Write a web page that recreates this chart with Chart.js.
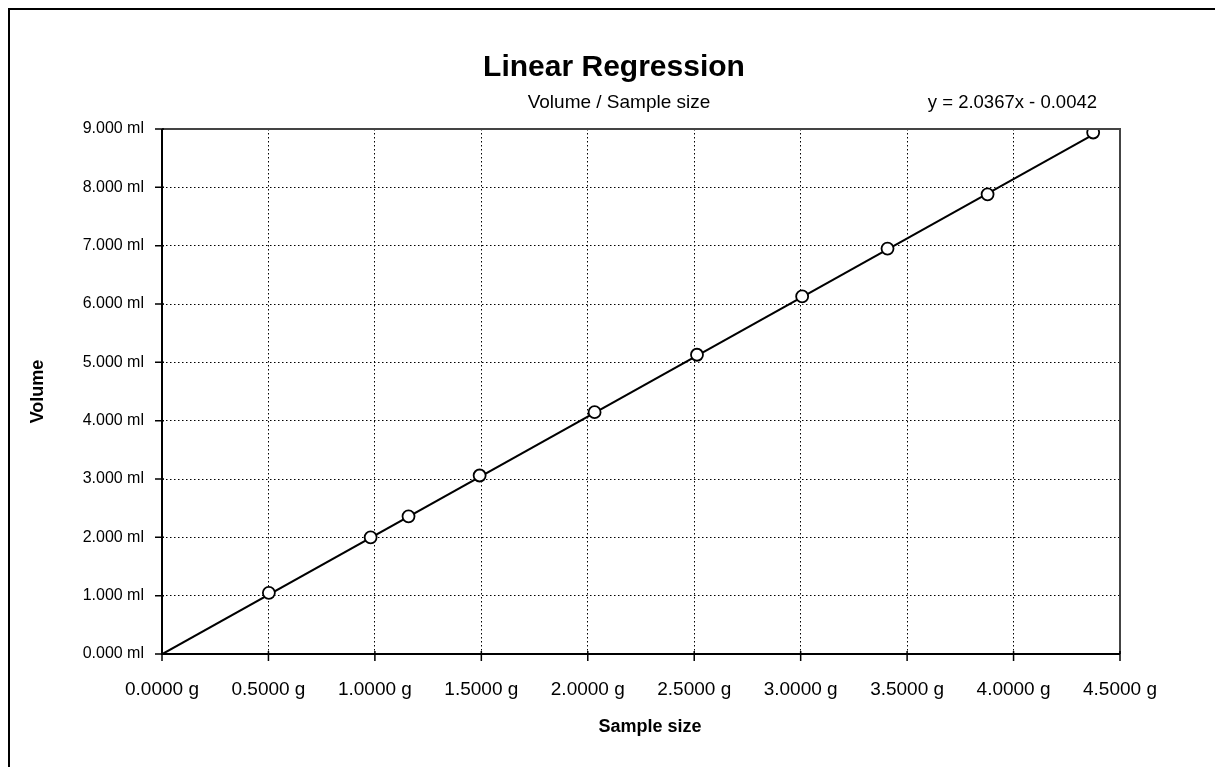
<!DOCTYPE html>
<html>
<head>
<meta charset="utf-8">
<script src="https://cdn.jsdelivr.net/npm/chart.js@4.4.1/dist/chart.umd.min.js"></script>
<style>
  html, body { margin: 0; padding: 0; background: #fff; }
  #wrap { width: 1215px; height: 767px; }
</style>
</head>
<body>
<div id="wrap"><canvas id="chart"></canvas></div>
<script>
// Values
const sampleSize = [0.502, 0.980, 1.158, 1.492, 2.032, 2.513, 3.007, 3.408, 3.878, 4.374];
const volume = [1.049, 2.000, 2.360, 3.060, 4.145, 5.130, 6.130, 6.950, 7.880, 8.940];
const slope = 2.0367;
const intercept = -0.0042;
const titleText = 'Linear Regression';
const subtitleText = 'Volume / Sample size';
const equationText = 'y = 2.0367x - 0.0042';
const xTitleText = 'Sample size';

const FONT = '"Liberation Sans", Arial, sans-serif';

const points = sampleSize.map((x, i) => ({ x, y: volume[i] }));
const xMax = Math.max(...sampleSize);
const trend = [0, xMax].map(x => ({ x, y: slope * x + intercept }));

// frame, titles, axis lines and tick marks
const decorations = {
  id: 'decorations',
  afterDraw(chart) {
    const { ctx, chartArea: a, scales } = chart;
    ctx.save();
    ctx.strokeStyle = '#000';
    ctx.lineWidth = 2;
    ctx.beginPath();
    ctx.moveTo(9, chart.height);
    ctx.lineTo(9, 9);
    ctx.lineTo(chart.width, 9);
    ctx.stroke();

    ctx.fillStyle = '#000';
    ctx.textBaseline = 'middle';
    ctx.textAlign = 'center';
    ctx.font = 'bold 30px ' + FONT;
    ctx.fillText(titleText, 614, 68);
    ctx.font = '19px ' + FONT;
    ctx.fillText(subtitleText, 619, 103);
    ctx.font = 'bold 18px ' + FONT;
    ctx.fillText(xTitleText, 650, 727);
    ctx.font = '18.5px ' + FONT;
    ctx.textAlign = 'right';
    ctx.fillText(equationText, 1097, 103);

    // plot area border (top / right)
    ctx.strokeStyle = '#444';
    ctx.lineWidth = 2;
    ctx.beginPath();
    ctx.moveTo(a.left, a.top);
    ctx.lineTo(a.right, a.top);
    ctx.lineTo(a.right, a.bottom);
    ctx.stroke();

    // axes
    ctx.strokeStyle = '#000';
    ctx.beginPath();
    ctx.moveTo(a.left, a.top);
    ctx.lineTo(a.left, a.bottom);
    ctx.lineTo(a.right, a.bottom);
    ctx.stroke();

    ctx.lineWidth = 1.5;
    ctx.beginPath();
    scales.y.ticks.forEach(t => {
      const py = scales.y.getPixelForValue(t.value);
      ctx.moveTo(a.left - 7, py);
      ctx.lineTo(a.left + 2, py);
    });
    scales.x.ticks.forEach(t => {
      const px = scales.x.getPixelForValue(t.value);
      ctx.moveTo(px, a.bottom - 3);
      ctx.lineTo(px, a.bottom + 7);
    });
    ctx.stroke();
    ctx.restore();
  }
};

new Chart(document.getElementById('chart'), {
  type: 'scatter',
  data: {
    datasets: [
      {
        label: 'Volume',
        data: points,
        pointStyle: 'circle',
        pointRadius: 6,
        pointBorderWidth: 1.8,
        pointBorderColor: '#000',
        pointBackgroundColor: '#fff',
        showLine: false,
        order: 1
      },
      {
        label: 'Trend',
        data: trend,
        showLine: true,
        borderColor: '#000',
        borderWidth: 2,
        pointRadius: 0,
        order: 2
      }
    ]
  },
  options: {
    responsive: true,
    maintainAspectRatio: false,
    animation: false,
    layout: { padding: { left: 20, top: 129, right: 95, bottom: 0 } },
    plugins: {
      legend: { display: false },
      tooltip: { enabled: false }
    },
    scales: {
      x: {
        type: 'linear',
        min: 0,
        max: 4.5,
        afterFit: s => { s.height = 113; },
        ticks: {
          stepSize: 0.5,
          padding: 24,
          color: '#000',
          font: { family: FONT, size: 19 },
          callback: v => v.toFixed(4) + ' g'
        },
        grid: { color: '#000', lineWidth: 1, drawTicks: false },
        border: { display: false, dash: [1.5, 2.5] },
        title: { display: false }
      },
      y: {
        type: 'linear',
        min: 0,
        max: 9,
        afterFit: s => { s.width = 142; },
        ticks: {
          stepSize: 1,
          padding: 18,
          color: '#000',
          font: { family: FONT, size: 16 },
          callback: v => v.toFixed(3) + ' ml'
        },
        grid: { color: '#000', lineWidth: 1, drawTicks: false },
        border: { display: false, dash: [1.5, 2.5] },
        title: {
          display: true,
          text: 'Volume',
          color: '#000',
          font: { family: FONT, size: 18, weight: 'bold' },
          padding: { top: 7, bottom: 0 }
        }
      }
    }
  },
  plugins: [decorations]
});
</script>
</body>
</html>
